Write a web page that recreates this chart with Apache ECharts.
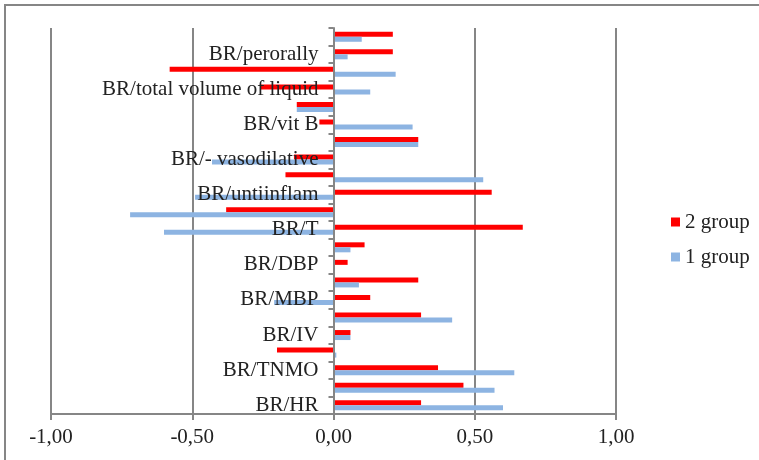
<!DOCTYPE html>
<html>
<head>
<meta charset="utf-8">
<script src="https://cdn.jsdelivr.net/npm/echarts@6/dist/echarts.min.js"></script>
<style>
  html, body { margin: 0; padding: 0; background: #ffffff; }
  #chart { width: 759px; height: 460px; }
</style>
</head>
<body>
<div id="chart"></div>
<script>
// Categories from bottom to top; every second one carries a label
const categories = [
  'BR/HR', '', 'BR/TNMO', '', 'BR/IV', '', 'BR/MBP', '', 'BR/DBP', '',
  'BR/T', '', 'BR/untiinflam', '', 'BR/- vasodilative', '', 'BR/vit B', '',
  'BR/total volume of liquid', '', 'BR/perorally', ''
];
const group1 = [0.60, 0.57, 0.64, 0.01, 0.06, 0.42, -0.21, 0.09, 0.00, 0.06,
  -0.60, -0.72, -0.49, 0.53, -0.43, 0.30, 0.28, -0.13, 0.13, 0.22, 0.05, 0.10];
const group2 = [0.31, 0.46, 0.37, -0.20, 0.06, 0.31, 0.13, 0.30, 0.05, 0.11,
  0.67, -0.38, 0.56, -0.17, -0.14, 0.30, -0.05, -0.13, -0.26, -0.58, 0.21, 0.21];
const xTicks = { min: -1, max: 1, step: 0.5 };

const FONT = '"Liberation Serif", "Times New Roman", serif';
const GREY = '#868686';
const FS = 21;

const GRID = { left: 51, right: 143, top: 28, bottom: 46 };
const plotWidth = 759 - GRID.left - GRID.right;
// shift the category axis (line, ticks, labels) onto the x = 0 position
const zeroShift = plotWidth * (0 - xTicks.min) / (xTicks.max - xTicks.min);

const chart = echarts.init(document.getElementById('chart'), null, { renderer: 'canvas' });
chart.setOption({
  animation: false,
  backgroundColor: '#ffffff',
  graphic: [{
    type: 'rect',
    shape: { x: 5, y: 5, width: 800, height: 500 },
    style: { fill: 'none', stroke: GREY, lineWidth: 2 },
    silent: true
  }],
  grid: Object.assign({ containLabel: false, outerBoundsMode: 'none' }, GRID),
  legend: {
    orient: 'vertical',
    left: 666,
    top: 206,
    itemWidth: 9,
    itemHeight: 9,
    itemGap: 13,
    icon: 'rect',
    data: ['2 group', '1 group'],
    textStyle: { fontFamily: FONT, fontSize: FS, color: '#222', lineHeight: 22 }
  },
  xAxis: {
    type: 'value',
    min: xTicks.min,
    max: xTicks.max,
    interval: xTicks.step,
    axisLine: { show: true, onZero: false, lineStyle: { color: GREY, width: 2 } },
    axisTick: { show: true, length: 6, lineStyle: { color: GREY, width: 2 } },
    splitLine: { show: true, lineStyle: { color: GREY, width: 2 } },
    axisLabel: {
      fontFamily: FONT, fontSize: FS, color: '#222', margin: 13,
      formatter: v => v.toFixed(2).replace('.', ',')
    }
  },
  yAxis: {
    type: 'category',
    data: categories,
    z: 5,
    offset: -zeroShift,
    axisLine: { show: true, onZero: false, lineStyle: { color: GREY, width: 2 } },
    axisTick: { show: true, interval: 0, length: 5, lineStyle: { color: GREY, width: 2 } },
    axisLabel: { interval: 1, fontFamily: FONT, fontSize: FS, color: '#222', margin: 15 },
    splitLine: { show: false }
  },
  series: [
    {
      name: '2 group', type: 'bar', data: group2,
      barWidth: 5, barGap: '0%',
      itemStyle: { color: '#FF0000' }
    },
    {
      name: '1 group', type: 'bar', data: group1,
      barWidth: 5, barGap: '0%',
      itemStyle: { color: '#8DB4E2' }
    }
  ]
});
</script>
</body>
</html>
